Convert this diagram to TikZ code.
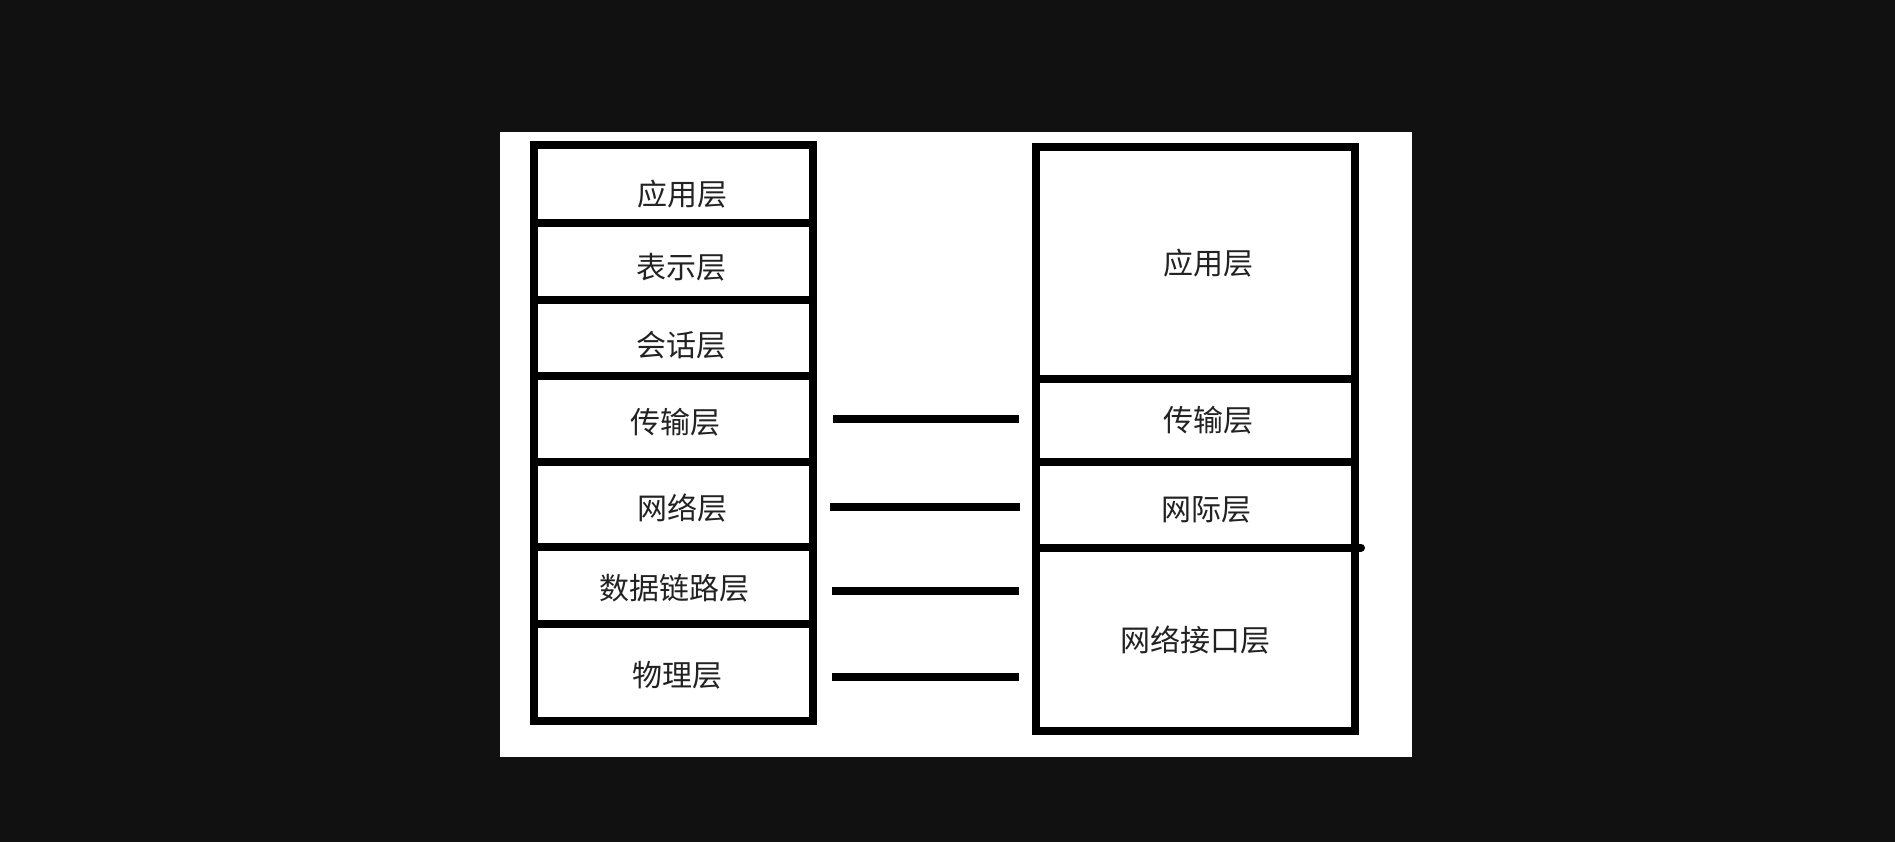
\documentclass[tikz,border=0pt]{standalone}
\usepackage{fontspec}
\newfontfamily\cjk{Noto Sans CJK SC}
\definecolor{bgdark}{HTML}{111111}
\definecolor{ink}{HTML}{000000}
\definecolor{txt}{HTML}{222222}
\begin{document}
\begin{tikzpicture}[x=1pt,y=-1pt,
  frame/.style={draw=ink,line width=8pt},
  lbl/.style={inner sep=0pt,font=\cjk\fontsize{30}{30}\selectfont,text=txt,yshift=2pt},
  link/.style={draw=ink,line width=8pt}]
\fill[bgdark] (0,0) rectangle (1895,842);
\useasboundingbox (0,0) rectangle (1895,842);
\fill[white] (500,132) rectangle (1412,757);
% left stack (OSI)
\draw[frame] (533.5,145) rectangle (813,721);
\foreach \y in {223.5,300.5,376,462,547,624}{\draw[frame] (533.5,\y) -- (813,\y);}
\node[lbl] (l1) at (682,196) {应用层};
\node[lbl] (l2) at (681,269) {表示层};
\node[lbl] (l3) at (681,347) {会话层};
\node[lbl] (l4) at (675,424) {传输层};
\node[lbl] (l5) at (682,510) {网络层};
\node[lbl] (l6) at (674,590) {数据链路层};
\node[lbl] (l7) at (677,677) {物理层};
% right stack (TCP/IP)
\draw[frame] (1036,147) rectangle (1355,731);
\draw[frame] (1036,378.5) -- (1355,378.5);
\draw[frame] (1036,462) -- (1355,462);
\draw[frame,line cap=round] (1036,547.5) -- (1361,547.5);
\node[lbl] (r1) at (1208,265) {应用层};
\node[lbl] (r2) at (1208,422) {传输层};
\node[lbl] (r3) at (1206,512) {网际层};
\node[lbl] (r4) at (1195,642) {网络接口层};
% connectors
\coordinate (a1) at (833,419); \coordinate (b1) at (1019,419);
\coordinate (a2) at (830,507); \coordinate (b2) at (1020,507);
\coordinate (a3) at (832,591); \coordinate (b3) at (1019,591);
\coordinate (a4) at (832,677); \coordinate (b4) at (1019,677);
\draw[link] (a1) -- (b1);
\draw[link] (a2) -- (b2);
\draw[link] (a3) -- (b3);
\draw[link] (a4) -- (b4);
\end{tikzpicture}
\end{document}
